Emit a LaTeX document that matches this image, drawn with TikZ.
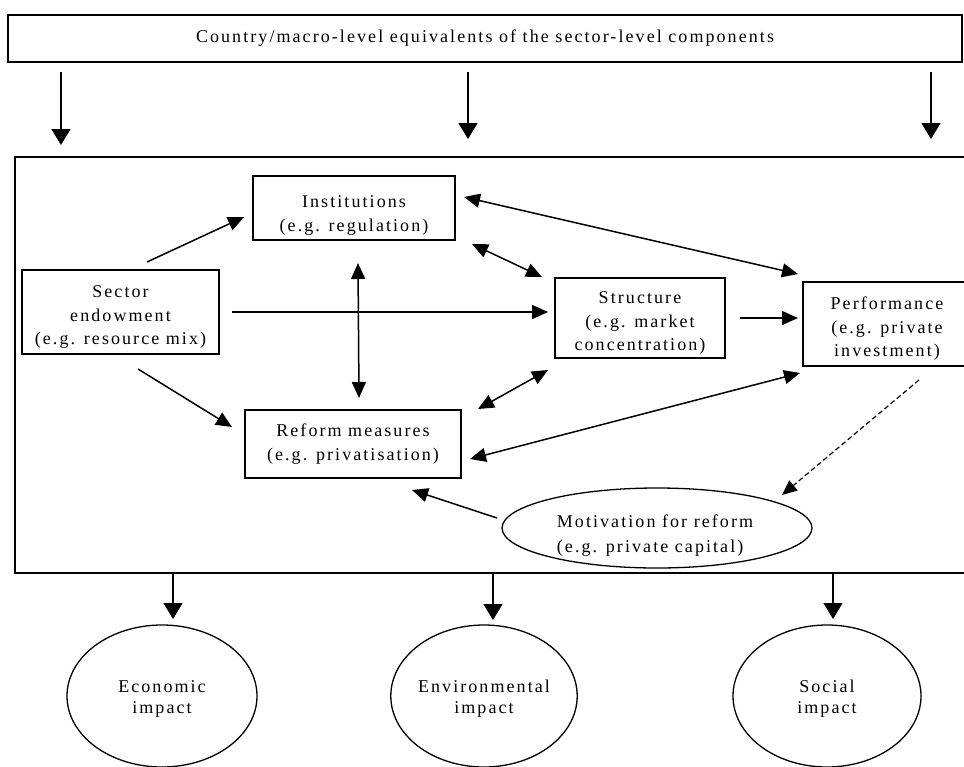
\documentclass[tikz,border=0pt]{standalone}
\usepackage{fontspec}
\setmainfont{Liberation Serif}[LetterSpace=11.5]
\usetikzlibrary{arrows.meta,shapes.geometric}
\newcommand{\lowerby}[1]{\rule{0pt}{#1pt}}
\begin{document}
\begin{tikzpicture}[x=1pt,y=-1pt,
  box/.style={draw,line width=2pt,align=center,inner sep=0pt,font=\fontsize{18}{23.5}\selectfont},
  oval/.style={draw,ellipse,line width=1.3pt,inner sep=0pt,align=center,font=\fontsize{18}{21}\selectfont},
  lbl/.style={inner sep=0pt,font=\fontsize{18}{24.5}\selectfont},
  arr/.style={line width=1.5pt,-{Triangle[length=16pt,width=14pt]}},
  darr/.style={line width=1.5pt,{Triangle[length=16pt,width=14pt]}-{Triangle[length=16pt,width=14pt]}},
  bigarr/.style={line width=1.5pt,-{Triangle[length=16pt,width=19pt]}},
  dasharr/.style={line width=1.2pt,dash pattern=on 5pt off 3pt,-{Triangle[length=15pt,width=13pt]}}
]
\clip (0,0) rectangle (964,766);
% top box and containing frame
\node[box,minimum width=954pt,minimum height=47pt] (top) at (485,38.5) {Country/macro-level equivalents of the sector-level components};
\node[draw,line width=2pt,minimum width=962pt,minimum height=416pt,inner sep=0pt] (main) at (496,365) {};
% boxes
\node[box,minimum width=202pt,minimum height=64pt] (inst) at (354,208) {\lowerby{27.3}Institutions\\(e.g. regulation)};
\node[box,minimum width=197pt,minimum height=84pt] (sect) at (120.5,312) {\lowerby{22.3}Sector\\endowment\\(e.g. resource mix)};
\node[box,minimum width=170pt,minimum height=80pt] (stru) at (640,318) {\lowerby{22.3}Structure\\(e.g. market\\concentration)};
\node[box,minimum width=168pt,minimum height=84pt] (perf) at (887,324) {\lowerby{22.3}Performance\\(e.g. private\\investment)};
\node[box,minimum width=216pt,minimum height=68pt] (refm) at (353,444) {Reform measures\\(e.g. privatisation)};
\node[draw,ellipse,line width=1.3pt,minimum width=310pt,minimum height=80pt] (moti) at (657,528) {};
\node[lbl,align=left] (motitext) at (655,535.5) {Motivation for reform\\(e.g. private capital)};
% impact ellipses
\node[oval,minimum width=190pt,minimum height=142pt] (econ) at (162,696) {\lowerby{17.3}Economic\\impact};
\node[oval,minimum width=186pt,minimum height=142pt] (envi) at (484,696) {\lowerby{17.3}Environmental\\impact};
\node[oval,minimum width=188pt,minimum height=142pt] (soci) at (827,696) {\lowerby{17.3}Social\\impact};
% connector end points
\coordinate (t1s) at (61,72);   \coordinate (t1e) at (61,145);
\coordinate (t2s) at (468,72);  \coordinate (t2e) at (468,139);
\coordinate (t3s) at (931,72);  \coordinate (t3e) at (931,139);
\coordinate (b1s) at (173,573); \coordinate (b1e) at (173,619);
\coordinate (b2s) at (493,573); \coordinate (b2e) at (493,620);
\coordinate (b3s) at (833,573); \coordinate (b3e) at (833,619);
\coordinate (seins) at (147,262); \coordinate (seine) at (244,217);
\coordinate (seres) at (138,369); \coordinate (seree) at (232,427);
\coordinate (inres) at (358,263); \coordinate (inree) at (359,398);
\coordinate (sests) at (232,312); \coordinate (seste) at (548,312);
\coordinate (inpes) at (464,197); \coordinate (inpee) at (798,274);
\coordinate (insts) at (472,244); \coordinate (inste) at (542,277);
\coordinate (stpes) at (740,318); \coordinate (stpee) at (798,318);
\coordinate (rests) at (478,409); \coordinate (reste) at (548,370);
\coordinate (repes) at (470,459); \coordinate (repee) at (800,373);
\coordinate (mores) at (497,518); \coordinate (moree) at (412,490);
\coordinate (pemos) at (919,380); \coordinate (pemoe) at (782,495);
% connectors
\draw[bigarr] (t1s) -- (t1e);
\draw[bigarr] (t2s) -- (t2e);
\draw[bigarr] (t3s) -- (t3e);
\draw[bigarr] (b1s) -- (b1e);
\draw[bigarr] (b2s) -- (b2e);
\draw[bigarr] (b3s) -- (b3e);
\draw[arr] (seins) -- (seine);
\draw[arr] (seres) -- (seree);
\draw[darr] (inres) -- (inree);
\draw[arr] (sests) -- (seste);
\draw[darr] (inpes) -- (inpee);
\draw[darr] (insts) -- (inste);
\draw[arr] (stpes) -- (stpee);
\draw[darr] (rests) -- (reste);
\draw[darr] (repes) -- (repee);
\draw[arr] (mores) -- (moree);
\draw[dasharr] (pemos) -- (pemoe);
\end{tikzpicture}
\end{document}
